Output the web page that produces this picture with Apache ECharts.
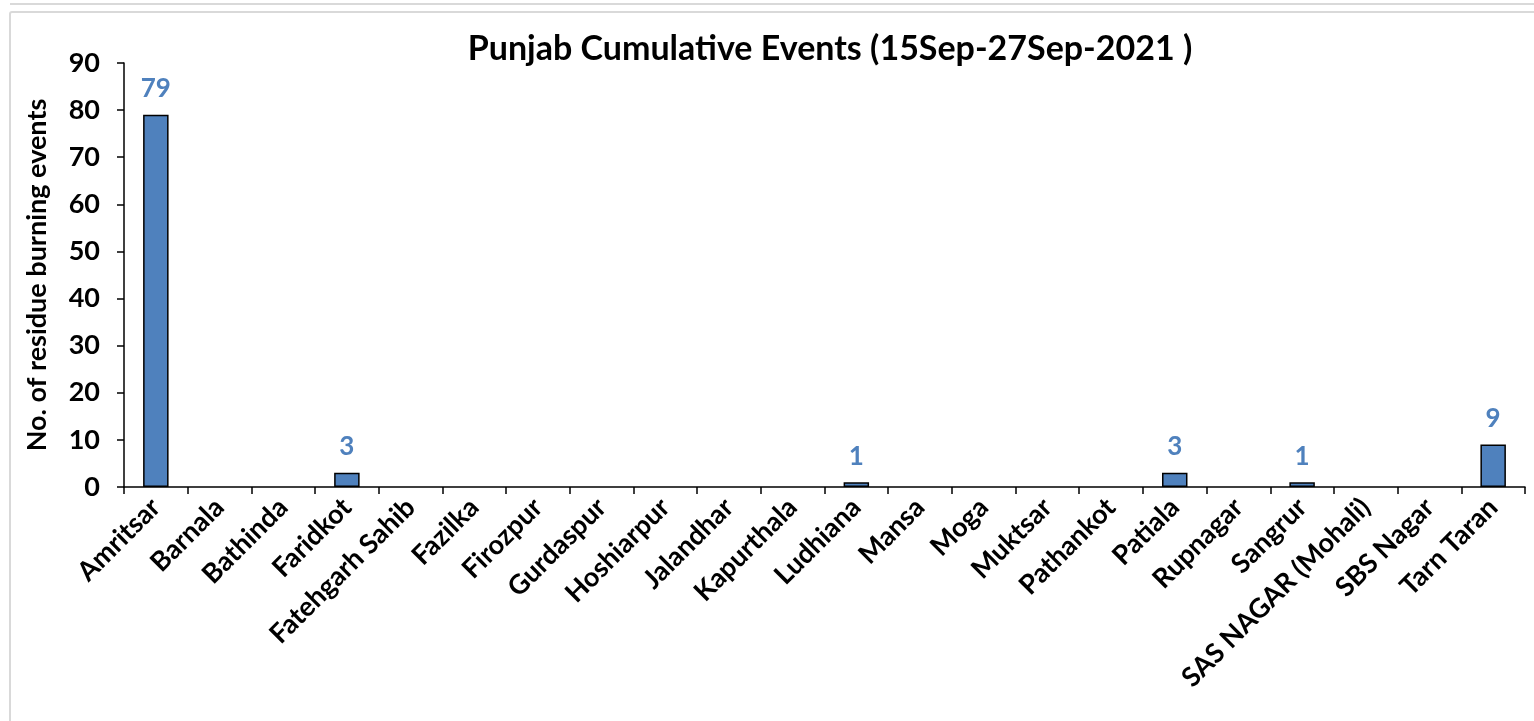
<!DOCTYPE html>
<html>
<head>
<meta charset="utf-8">
<script src="https://cdn.jsdelivr.net/npm/echarts@6/dist/echarts.min.js"></script>
<style>
html,body{margin:0;padding:0;background:#fff;}
#topline{position:absolute;left:10px;top:0;width:1524px;height:3px;border-bottom:2px solid #d9d9d9;}
#frame{position:absolute;left:9px;top:11px;width:1540px;height:720px;border:2px solid #d9d9d9;border-radius:3px;}
#chart{position:absolute;left:0;top:0;width:1534px;height:721px;}
</style>
</head>
<body>
<div id="topline"></div>
<div id="frame"></div>
<div id="chart"></div>
<script>
const titleText = 'Punjab Cumulative Events (15Sep-27Sep-2021 )';
const yAxisName = 'No. of residue burning events';
const categories = ['Amritsar','Barnala','Bathinda','Faridkot','Fatehgarh Sahib','Fazilka','Firozpur','Gurdaspur','Hoshiarpur','Jalandhar','Kapurthala','Ludhiana','Mansa','Moga','Muktsar','Pathankot','Patiala','Rupnagar','Sangrur','SAS NAGAR (Mohali)','SBS Nagar','Tarn Taran'];
const values = [79,0,0,3,0,0,0,0,0,0,0,1,0,0,0,0,3,0,1,0,0,9];
const yMin = 0, yMax = 90, yStep = 10;

const font = 'Lato, "Open Sans", "Liberation Sans", sans-serif';
const chart = echarts.init(document.getElementById('chart'));
chart.setOption({
  animation: false,
  title: {
    text: titleText, left: 825, top: 27, textAlign: 'center',
    textStyle: {fontFamily: font, fontWeight: 'bold', fontSize: 34, color: '#000'}
  },
  grid: {left: 124, right: 9, top: 63, bottom: 234},
  xAxis: {
    type: 'category', data: categories,
    axisLine: {lineStyle: {color: '#000', width: 1.5}},
    axisTick: {show: true, alignWithLabel: false, length: 7, lineStyle: {color: '#000', width: 1.5}},
    axisLabel: {rotate: 45, interval: 0, margin: 16, color: '#000', fontFamily: font, fontWeight: 'bold', fontSize: 27}
  },
  yAxis: {
    type: 'value', min: yMin, max: yMax, interval: yStep,
    name: yAxisName, nameLocation: 'middle', nameGap: 73,
    nameTextStyle: {fontFamily: font, fontWeight: 'bold', fontSize: 27, color: '#000'},
    splitLine: {show: false},
    axisLine: {show: true, lineStyle: {color: '#000', width: 1.5}},
    axisTick: {show: true, length: 7, lineStyle: {color: '#000', width: 1.5}},
    axisLabel: {margin: 24, color: '#000', fontFamily: font, fontWeight: 'bold', fontSize: 27}
  },
  series: [{
    type: 'bar',
    data: values.map(v => v > 0 ? v : {value: v, itemStyle: {borderWidth: 0}}),
    barWidth: '40%',
    itemStyle: {color: '#4F81BD', borderColor: '#000', borderWidth: 1.5},
    label: {
      show: true, position: 'top', distance: 13,
      formatter: p => p.value > 0 ? p.value : '',
      color: '#4F81BD', fontFamily: font, fontWeight: 'bold', fontSize: 26
    }
  }]
});
</script>
</body>
</html>
